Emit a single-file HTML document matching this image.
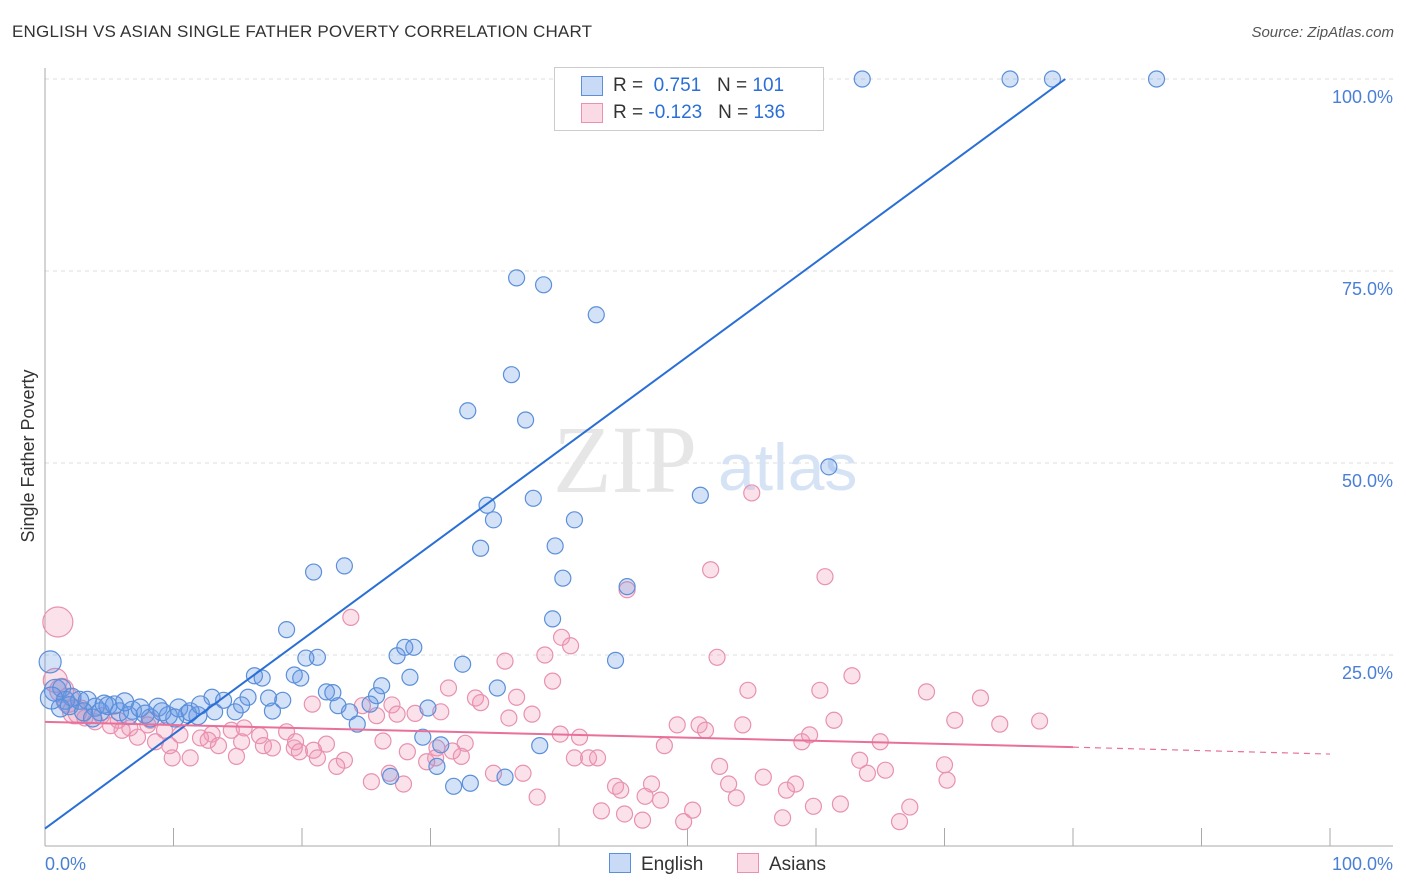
<!DOCTYPE html>
<html><head><meta charset="utf-8">
<style>
body{margin:0;background:#fff;font-family:"Liberation Sans",sans-serif;}
#wrap{position:relative;width:1406px;height:892px;overflow:hidden;}
.t{position:absolute;white-space:nowrap;}
</style></head>
<body>
<div id="wrap">
<div class="t" style="left:12px;top:22px;font-size:17px;color:#333;letter-spacing:0.2px">ENGLISH VS ASIAN SINGLE FATHER POVERTY CORRELATION CHART</div>
<div class="t" style="right:12px;top:24px;font-size:15px;color:#555;font-style:italic">Source: ZipAtlas.com</div>
<svg id="svg" width="1406" height="892" style="position:absolute;left:0;top:0"></svg>
</div>
<script>
const yTicks=[25,50,75,100];
const xTicks=[0,10,20,30,40,50,60,70,80,90,100];
const englishX=[40.9,46.3,47.9,56.4,63.6,75.1,78.4,86.5,36.7,38.8,42.9,36.3,32.9,37.4,61.0,51.0,38.0,34.4,34.9,41.2,33.9,39.7,20.9,23.3,40.3,45.3,39.5,18.8,21.2,20.3,32.5,44.4,27.4,28.0,28.7,16.3,16.9,19.4,19.9,28.4,26.2,35.2,21.9,22.4,25.8,15.8,17.4,18.5,22.8,25.3,13.0,13.9,29.8,15.3,17.7,14.8,13.2,23.7,24.3,29.4,30.8,38.5,26.9,30.5,31.8,33.1,35.8,0.4,0.8,1.3,2.1,2.7,3.9,4.9,5.8,6.8,7.8,8.8,9.6,10.4,11.1,11.9,3.3,4.3,5.4,6.5,7.4,8.2,9.1,10.1,11.3,12.1,1.6,0.5,1.9,3.0,3.7,4.6,6.2,1.2];
const englishY=[100,100,100,100,100,100,100,100,74.1,73.2,69.3,61.5,56.8,55.6,49.5,45.8,45.4,44.5,42.6,42.6,38.9,39.2,35.8,36.6,35.0,33.9,29.7,28.3,24.7,24.6,23.8,24.3,24.9,26.0,26.0,22.3,22.0,22.4,22.0,22.1,21.0,20.7,20.2,20.1,19.7,19.5,19.4,19.1,18.4,18.6,19.5,19.1,18.1,18.5,17.7,17.6,17.6,17.6,16.0,14.3,13.3,13.2,9.2,10.5,7.9,8.3,9.1,24.1,20.4,20.7,19.5,19.1,18.2,18.4,17.6,17.8,17.3,18.2,17.1,18.1,17.3,17.1,19.1,17.6,18.5,17.1,18.1,16.8,17.6,16.8,17.6,18.5,19.1,19.4,18.4,17.6,16.8,18.6,18.9,18.1];
const asianX=[55.0,51.8,60.7,45.3,23.8,40.2,40.9,38.9,35.8,52.3,62.8,39.5,31.4,36.7,54.7,60.3,68.6,72.8,33.5,33.9,27.0,24.7,37.9,36.1,49.2,50.9,51.4,54.3,61.4,70.8,74.3,77.4,28.8,30.8,27.4,25.8,20.8,18.8,15.5,16.7,14.5,13.0,12.1,17.0,17.7,19.4,15.3,19.5,21.9,20.9,19.8,21.2,23.3,22.7,26.3,28.2,30.5,32.7,32.4,31.7,30.4,29.7,40.1,41.6,42.3,43.0,41.2,48.2,58.9,59.5,65.0,63.4,70.0,65.4,64.0,52.5,70.2,53.2,55.9,58.4,44.4,47.2,44.8,46.7,47.9,53.8,57.7,50.4,38.3,34.9,37.2,26.8,25.4,27.9,59.8,61.9,67.3,57.4,49.7,43.3,45.1,46.5,66.5,1.0,0.8,1.3,1.8,2.3,3.1,3.9,5.1,6.0,7.2,8.6,9.7,11.3,9.9,12.7,13.5,14.9,6.6,4.4,2.7,5.7,8.2,9.3,10.5,8.0];
const asianY=[46.1,36.1,35.2,33.5,29.9,27.3,26.2,25.0,24.2,24.7,22.3,21.6,20.7,19.5,20.4,20.4,20.2,19.4,19.4,18.8,18.5,18.4,17.3,16.8,15.9,15.9,15.2,15.9,16.5,16.5,16.0,16.4,17.4,17.6,17.3,17.1,18.6,15.0,15.5,14.5,15.2,14.7,14.2,13.2,12.9,12.9,13.7,13.7,13.4,12.6,12.4,11.6,11.3,10.5,13.8,12.4,12.9,13.5,11.8,12.5,11.6,11.1,14.7,14.3,11.6,11.6,11.6,13.2,13.7,14.6,13.7,11.3,10.7,10.0,9.6,10.5,8.7,8.2,9.1,8.2,7.9,8.2,7.4,6.6,6.1,6.4,7.4,4.8,6.5,9.6,9.6,9.6,8.5,8.2,5.3,5.6,5.2,3.8,3.3,4.7,4.3,3.5,3.3,29.3,21.7,20.4,19.1,17.6,16.8,16.3,15.8,15.2,14.3,13.7,13.2,11.6,11.6,13.9,13.2,11.8,15.5,17.1,17.6,16.5,16.5,15.2,14.6,15.9];
const englishTrend=[2.4,100,79.4];   // y at x=0, y at end, end x
const asianTrend=[16.3,13.0,80,12.1]; // y at 0, y at 80, solid end, y at 100

const X0=45,X1=1330,Y0=847,Y100=79;
const sx=v=>X0+(X1-X0)*v/100;
const sy=v=>Y0-(Y0-Y100)*v/100;
const svg=document.getElementById('svg');
const NS='http://www.w3.org/2000/svg';
function mk(tag,attrs,parent){const e=document.createElementNS(NS,tag);for(const k in attrs)e.setAttribute(k,attrs[k]);(parent||svg).appendChild(e);return e;}

// gridlines + right labels
yTicks.forEach(t=>{
  const g=mk('line',{x1:X0,x2:1393,y1:sy(t),y2:sy(t),stroke:'#ddd','stroke-dasharray':'4,4'});
  
  
  const l=mk('text',{x:1393,y:sy(t)+24,'text-anchor':'end','font-size':18,fill:'#4a7fd6','font-family':'Liberation Sans'});
  l.textContent=t.toFixed(1)+'%';
  
  
});
const gTop=mk('line',{x1:X0,x2:1393,y1:sy(100),y2:sy(100),stroke:'#ddd','stroke-dasharray':'4,4'});
// axes
const ax=mk('line',{x1:X0,x2:X0,y1:68,y2:846,stroke:'#aaa'});


const bx=mk('line',{x1:X0,x2:1393,y1:846,y2:846,stroke:'#aaa'});


xTicks.forEach(t=>{
  const k=mk('line',{x1:sx(t),x2:sx(t),y1:828,y2:846,stroke:'#aaa'});
  
  
});
const xl0=mk('text',{x:45,y:870,'font-size':18,fill:'#4a7fd6'});xl0.textContent='0.0%';


const xl1=mk('text',{x:1393,y:870,'font-size':18,fill:'#4a7fd6','text-anchor':'end'});xl1.textContent='100.0%';


const yt=mk('text',{x:34,y:456,'font-size':18,fill:'#333','text-anchor':'middle',transform:'rotate(-90 34 456)'});yt.textContent='Single Father Poverty';


// watermark
const wm=mk('text',{x:553,y:492,'font-size':96,fill:'#e6e6e6','font-family':'Liberation Serif'});wm.textContent='ZIP';


const wm2=mk('text',{x:718,y:490,'font-size':66,fill:'#d5e3f5'});wm2.textContent='atlas';



// points
asianX.forEach((x,i)=>{
  const c=mk('circle',{cx:sx(x),cy:sy(asianY[i]),r:(x<2&&asianY[i]>28)?15:(x<3?12:8),fill:'rgba(240,150,180,0.28)',stroke:'#e891b0','stroke-width':1.2});
  
  
});
englishX.forEach((x,i)=>{
  const c=mk('circle',{cx:sx(x),cy:sy(englishY[i]),r:x<1?11:(x<13?9:8),fill:'rgba(100,150,230,0.28)',stroke:'#5b8fd9','stroke-width':1.2});
  
  
});
// trends
const bl=mk('line',{x1:sx(0),y1:sy(englishTrend[0]),x2:sx(englishTrend[2]),y2:sy(englishTrend[1]),stroke:'#2a6fd6','stroke-width':2});


const pl=mk('line',{x1:sx(0),y1:sy(asianTrend[0]),x2:sx(asianTrend[2]),y2:sy(asianTrend[1]),stroke:'#e8709a','stroke-width':2});


const pd=mk('line',{x1:sx(asianTrend[2]),y1:sy(asianTrend[1]),x2:sx(100),y2:sy(asianTrend[3]),stroke:'#e8709a','stroke-width':1.2,'stroke-dasharray':'6,5'});


</script>
<div class="t" style="left:554px;top:67px;width:268px;height:62px;background:#fff;border:1px solid #ccc">
  <div style="position:absolute;left:26px;top:8px;width:20px;height:18px;background:rgba(100,150,230,0.35);border:1px solid #5b8fd9"></div>
  <div class="t" style="left:58px;top:7px;font-size:19px;color:#333">R = <span style="color:#2a6fd6">&nbsp;0.751</span>&nbsp;&nbsp;&nbsp;N = <span style="color:#2a6fd6">101</span></div>
  <div style="position:absolute;left:26px;top:35px;width:20px;height:18px;background:rgba(240,150,180,0.35);border:1px solid #e891b0"></div>
  <div class="t" style="left:58px;top:34px;font-size:19px;color:#333">R = <span style="color:#2a6fd6">-0.123</span>&nbsp;&nbsp;&nbsp;N = <span style="color:#2a6fd6">136</span></div>
</div>
<div class="t" style="left:609px;top:853px;font-size:19px;color:#333"><span style="display:inline-block;width:20px;height:18px;background:rgba(100,150,230,0.35);border:1px solid #5b8fd9;vertical-align:-3px;margin-right:10px"></span>English</div>
<div class="t" style="left:737px;top:853px;font-size:19px;color:#333"><span style="display:inline-block;width:20px;height:18px;background:rgba(240,150,180,0.35);border:1px solid #e891b0;vertical-align:-3px;margin-right:10px"></span>Asians</div>
</body></html>
